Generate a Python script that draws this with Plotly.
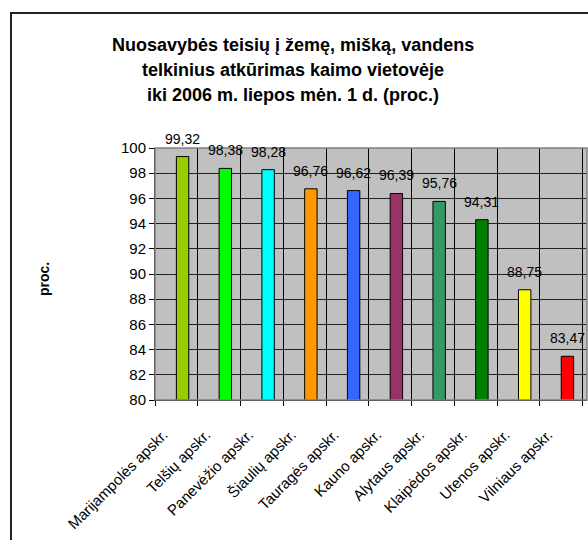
import plotly.graph_objects as go

categories = ["Marijampolės apskr.", "Telšių apskr.", "Panevėžio apskr.", "Šiaulių apskr.",
              "Tauragės apskr.", "Kauno apskr.", "Alytaus apskr.", "Klaipėdos apskr.",
              "Utenos apskr.", "Vilniaus apskr."]
values = [99.32, 98.38, 98.28, 96.76, 96.62, 96.39, 95.76, 94.31, 88.75, 83.47]
labels = ["99,32", "98,38", "98,28", "96,76", "96,62", "96,39", "95,76", "94,31", "88,75", "83,47"]
colors = ["#99CC00", "#00FF00", "#00FFFF", "#FF9900", "#3366FF",
          "#993366", "#339966", "#008000", "#FFFF00", "#FF0000"]
y_ticks = [80, 82, 84, 86, 88, 90, 92, 94, 96, 98, 100]
title_lines = ["Nuosavybės teisių į žemę, mišką, vandens",
               "telkinius atkūrimas kaimo vietovėje",
               "iki 2006 m. liepos mėn. 1 d. (proc.)"]

FONT = "Liberation Sans, Arial, sans-serif"
W, H = 588, 540
# page geometry of the plot area (pixels)
PL, PR, PT, PB = 155, 587, 148, 400
PW, PH = PR - PL, PB - PT
BAR_W = 0.29


def px(x):
    return (x - PL) / PW


def py(y):
    return (PB - y) / PH


fig = go.Figure()
fig.add_trace(go.Bar(
    x=categories, y=values, width=BAR_W, offset=0,
    marker=dict(color=colors, line=dict(color="black", width=1)),
    hoverinfo="skip",
))

for c, v, t in zip(categories, values, labels):
    fig.add_annotation(x=c, y=v, text=t, showarrow=False, yanchor="bottom",
                       xshift=BAR_W * PW / 20, yshift=8,
                       font=dict(size=14, color="black", family=FONT))

for line, yc in zip(title_lines, [45, 70, 95]):
    fig.add_annotation(x=px(293), y=py(yc), xref="paper", yref="paper",
                       text="<b>%s</b>" % line, showarrow=False,
                       xanchor="center", yanchor="middle",
                       font=dict(size=18, color="black", family=FONT))

fig.add_annotation(x=px(44), y=py(279), xref="paper", yref="paper",
                   text="<b>proc.</b>", textangle=-90, showarrow=False,
                   xanchor="center", yanchor="middle",
                   font=dict(size=14, color="black", family=FONT))

# outer chart frame
fig.add_shape(type="rect", xref="paper", yref="paper",
              x0=px(11), x1=px(640), y0=py(600), y1=py(13),
              line=dict(color="#222222", width=2), layer="below")
# plot area border (top/right grey)
fig.add_shape(type="rect", xref="paper", yref="paper", x0=0, x1=1, y0=0, y1=1,
              line=dict(color="#808080", width=1.5), layer="above")

fig.update_layout(
    width=W, height=H,
    margin=dict(l=PL, r=W - PR, t=PT, b=H - PB),
    paper_bgcolor="white", plot_bgcolor="#C0C0C0",
    showlegend=False,
    font=dict(family=FONT, color="black"),
)
fig.update_xaxes(
    type="category", tickson="boundaries", showgrid=True, gridcolor="black", gridwidth=1,
    ticks="outside", ticklen=5, tickcolor="black", tickangle=-45,
    ticklabelstandoff=19, ticklabelshift=-13, automargin=False,
    tickfont=dict(size=15, family=FONT, color="black"),
    showline=True, linecolor="black", linewidth=1, zeroline=False,
)
fig.update_yaxes(
    range=[80, 100], tickvals=y_ticks, ticktext=[str(t) for t in y_ticks],
    showgrid=True, gridcolor="#222222", gridwidth=1, automargin=False,
    ticks="outside", ticklen=5, tickcolor="black",
    tickfont=dict(size=15, family=FONT, color="black"),
    showline=True, linecolor="black", linewidth=1, zeroline=False,
)

fig.write_html(
    "out.html",
    config={"displayModeBar": False},
    post_script="document.body.style.margin='0';document.body.style.overflow='hidden';",
)
